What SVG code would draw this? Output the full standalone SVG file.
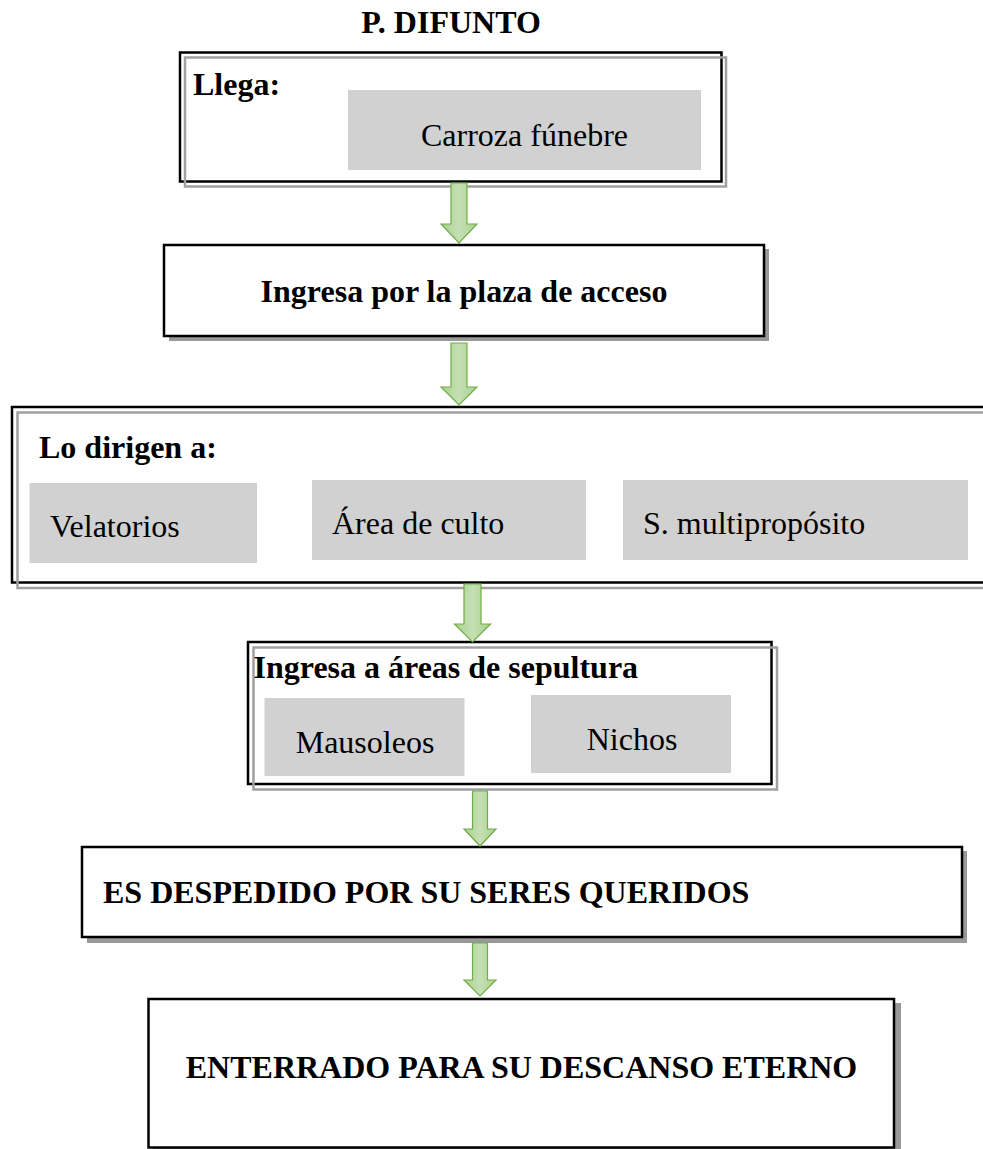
<svg xmlns="http://www.w3.org/2000/svg" width="983" height="1149" viewBox="0 0 983 1149">
<defs>
<linearGradient id="ag" x1="0" y1="0" x2="1" y2="0">
<stop offset="0" stop-color="#a9d18e"/>
<stop offset="0.5" stop-color="#c5e0b4"/>
<stop offset="1" stop-color="#a9d18e"/>
</linearGradient>
<style>
.t{font-family:"Liberation Serif","Times New Roman",serif;font-size:32px;fill:#000}
.b{font-weight:bold}
.frame{fill:#fff;stroke:#000;stroke-width:2.5}
.ghost{fill:none;stroke:#a0a0a0;stroke-width:2.5}
.shadow{fill:#999;stroke:none}
.sub{fill:#d1d1d1;stroke:none}
.arrow{fill:url(#ag);stroke:#70ad47;stroke-width:1.2}
</style>
</defs>
<rect width="983" height="1149" fill="#fff"/>
<g id="title"><text class="t b" x="451" y="33" text-anchor="middle">P. DIFUNTO</text></g>

<g id="n1">
<rect class="frame" x="180" y="52.5" width="541.5" height="129"/>
<rect class="ghost" x="185" y="57.5" width="541" height="129"/>
<text class="t b" x="193" y="95">Llega:</text>
<rect class="sub" x="348" y="90" width="353" height="80"/>
<text class="t" x="524.5" y="146" text-anchor="middle">Carroza fúnebre</text>
</g>

<g id="n2">
<rect class="shadow" x="169" y="249" width="600" height="92"/>
<rect class="frame" x="164" y="245" width="600" height="91"/>
<text class="t b" x="464" y="302" text-anchor="middle">Ingresa por la plaza de acceso</text>
</g>

<g id="n3">
<rect class="frame" x="12" y="407" width="990" height="175.5"/>
<rect class="ghost" x="17.5" y="412.5" width="990" height="175.5"/>
<text class="t b" x="39" y="458">Lo dirigen a:</text>
<rect class="sub" x="29.5" y="483" width="227.5" height="80"/>
<text class="t" x="50" y="537">Velatorios</text>
<rect class="sub" x="312" y="480" width="274" height="80"/>
<text class="t" x="332" y="534">Área de culto</text>
<rect class="sub" x="623" y="480" width="345" height="80"/>
<text class="t" x="643" y="534">S. multipropósito</text>
</g>

<g id="n4">
<rect class="frame" x="248" y="642" width="523.5" height="142"/>
<rect class="ghost" x="253.5" y="647.5" width="523.5" height="142"/>
<text class="t b" x="253.5" y="678">Ingresa a áreas de sepultura</text>
<rect class="sub" x="264.5" y="698" width="200" height="78"/>
<text class="t" x="365" y="753" text-anchor="middle">Mausoleos</text>
<rect class="sub" x="531" y="695" width="200" height="78"/>
<text class="t" x="632" y="750" text-anchor="middle">Nichos</text>
</g>

<g id="n5">
<rect class="shadow" x="87" y="851" width="880" height="92"/>
<rect class="frame" x="82" y="847" width="880" height="90"/>
<text class="t b" x="103" y="903">ES DESPEDIDO POR SU SERES QUERIDOS</text>
</g>

<g id="n6">
<rect class="shadow" x="153" y="1003" width="748" height="160"/>
<rect class="frame" x="148.5" y="999" width="745.5" height="148.5"/>
<text class="t b" x="521.5" y="1078" text-anchor="middle">ENTERRADO PARA SU DESCANSO ETERNO</text>
</g>

<g id="connectors">
<path class="arrow" d="M451,183 H467 V224 H477 L459,243 L441,224 H451 Z"/>
<path class="arrow" d="M451,343 H467 V387 H477 L459,405 L441,387 H451 Z"/>
<path class="arrow" d="M464,584 H481 V624 H490.5 L472.5,642 L454.5,624 H464 Z"/>
<path class="arrow" d="M472.5,791 H487.5 V829 H496 L480,846 L464,829 H472.5 Z"/>
<path class="arrow" d="M472.5,943 H487.5 V980 H496 L480,996 L464,980 H472.5 Z"/>
</g>
</svg>
